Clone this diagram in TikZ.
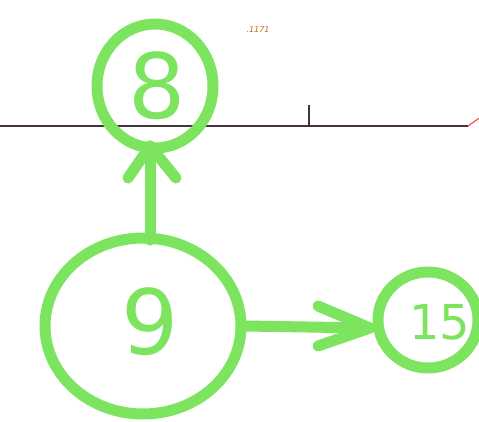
\documentclass[tikz,border=0pt]{standalone}
\usepackage{fontspec}
\setmainfont{DejaVu Sans}
\definecolor{marker}{RGB}{125,228,95}
\definecolor{axis}{RGB}{70,50,60}
\definecolor{lbl}{RGB}{190,110,30}
\begin{document}
\begin{tikzpicture}[x=1pt,y=-1pt,
  mk/.style={draw=marker,line width=11pt,line cap=round,line join=round},
  digit/.style={text=marker,font=\fontsize{90}{90}\selectfont}]
\useasboundingbox (0,0) rectangle (479,421);
% axis
\coordinate (a0) at (0,126);
\coordinate (a1) at (468,126);
\coordinate (t0) at (309,105);
\coordinate (t1) at (309,126);
\coordinate (r1) at (485,114);
\draw[axis,line width=1.2pt] (a0) -- (a1);
\draw[axis,line width=1.2pt] (t0) -- (t1);
\draw[red!70!white,line width=1.2pt] (a1) -- (r1);
\node[text=lbl,font=\itshape\fontsize{8}{8}\selectfont] (lab) at (258,30) {.1171};
% vertices
\draw[mk] (155,86) ellipse [x radius=58, y radius=62];
\draw[mk] (143,326) ellipse [x radius=98, y radius=88];
\draw[mk] (428,320) ellipse [x radius=50, y radius=48];
\node[digit] (n8) at (157,86) {8};
\node[digit] (n9) at (150,322) {9};
\node[digit,font=\fontsize{48}{48}\selectfont] (n15) at (440,322) {15};
\coordinate (v9top) at (150,240);
\coordinate (v8bot) at (150,146);
\coordinate (v9r) at (245,326);
\coordinate (v15l) at (370,328);
% edges
\draw[mk] (v9top) -- (v8bot);
\draw[mk] (128,178) -- (v8bot) -- (176,178);
\draw[mk] (v9r) -- (v15l);
\draw[mk] (318,306) -- (v15l) -- (318,346);
\end{tikzpicture}
\end{document}
